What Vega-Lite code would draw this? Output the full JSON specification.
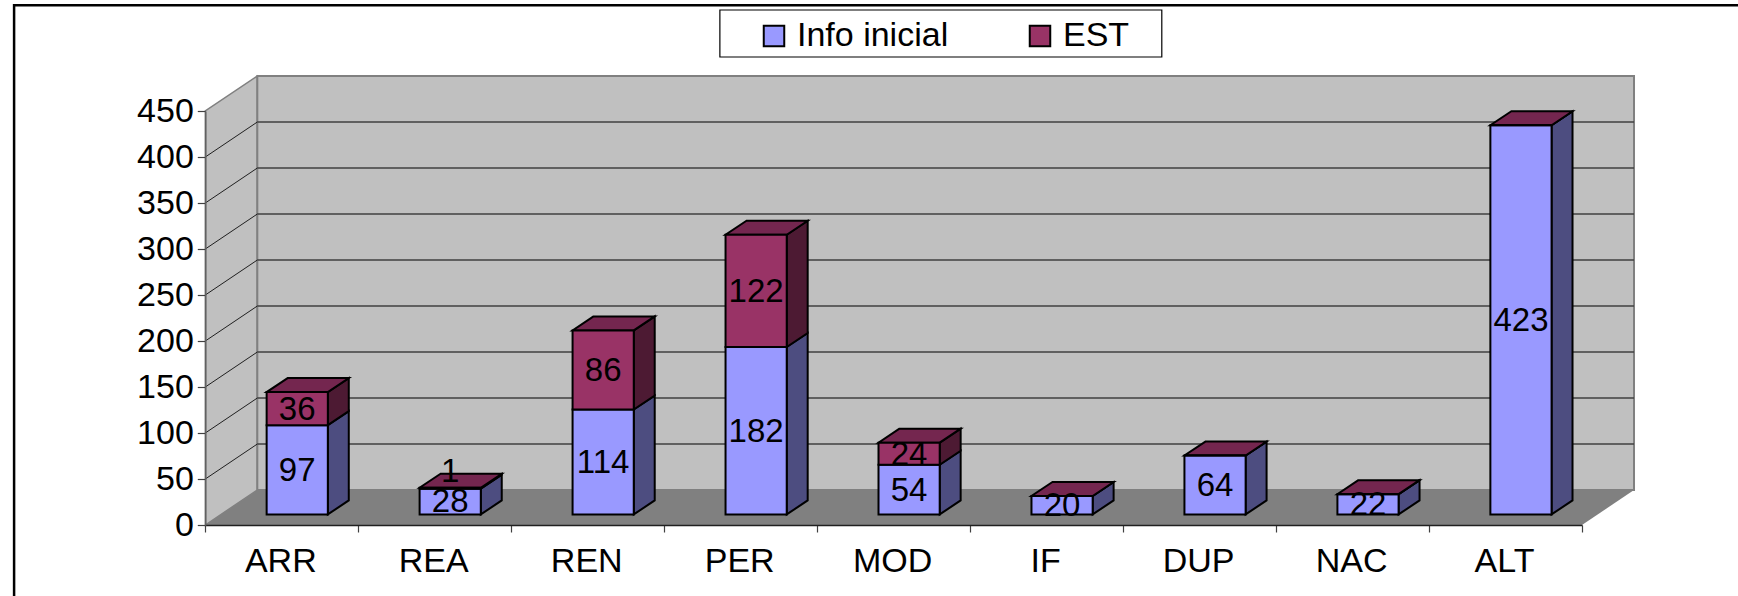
{"$schema":"https://vega.github.io/schema/vega-lite/v6.json","width":1738,"height":596,"padding":0,"autosize":"none","background":"white",
"config":{"view":{"stroke":null},"font":"Liberation Sans"},
"resolve":{"axis":{"x":"independent","y":"independent"}},
"datasets":{"bars":[
{"cat":"ARR","series":"Info inicial","value":97},{"cat":"ARR","series":"EST","value":36},
{"cat":"REA","series":"Info inicial","value":28},{"cat":"REA","series":"EST","value":1},
{"cat":"REN","series":"Info inicial","value":114},{"cat":"REN","series":"EST","value":86},
{"cat":"PER","series":"Info inicial","value":182},{"cat":"PER","series":"EST","value":122},
{"cat":"MOD","series":"Info inicial","value":54},{"cat":"MOD","series":"EST","value":24},
{"cat":"IF","series":"Info inicial","value":20},{"cat":"IF","series":"EST","value":0},
{"cat":"DUP","series":"Info inicial","value":64},{"cat":"DUP","series":"EST","value":0},
{"cat":"NAC","series":"Info inicial","value":22},{"cat":"NAC","series":"EST","value":0},
{"cat":"ALT","series":"Info inicial","value":423},{"cat":"ALT","series":"EST","value":0}],
"grid":[{"g":50},{"g":100},{"g":150},{"g":200},{"g":250},{"g":300},{"g":350},{"g":400}],
"depth":[{"d":0},{"d":1}],"one":[{"a":1}]},
"data":{"name":"bars"},
"transform":[
{"calculate":"datum.series==='EST'?1:0","as":"o"},
{"stack":"value","groupby":["cat"],"sort":[{"field":"o","order":"ascending"}],"as":["v0","v1"]},
{"calculate":"indexof(['ARR','REA','REN','PER','MOD','IF','DUP','NAC','ALT'],datum.cat)","as":"i"},
{"calculate":"datum.i+0.401","as":"xL"},{"calculate":"datum.i+0.801","as":"xR"},
{"calculate":"datum.v0+11.5","as":"b0"},{"calculate":"datum.v1+11.5","as":"b1"}],
"layer":[
{"data":{"name":"one"},"transform":[],"mark":{"type":"rect","fill":null,"stroke":"black","strokeWidth":2.5},
"encoding":{"x":{"datum":-1.25,"type":"quantitative","scale":{"domain":[0,9],"range":[205.3,1582],"nice":false,"zero":false},"axis":null},"x2":{"datum":12},"y":{"datum":565,"type":"quantitative","scale":{"domain":[0,450],"range":[525,111],"nice":false,"zero":false},"axis":null},"y2":{"datum":-100}}},
{"data":{"name":"one"},"transform":[],"mark":{"type":"rect","fill":"white","stroke":"black","strokeWidth":1.2},
"encoding":{"x":{"datum":3.364,"type":"quantitative","scale":{"domain":[0,9],"range":[205.3,1582],"nice":false,"zero":false},"axis":null},"x2":{"datum":6.253},"y":{"datum":559.8,"type":"quantitative","scale":{"domain":[0,450],"range":[525,111],"nice":false,"zero":false},"axis":null},"y2":{"datum":508.7}}},
{"data":{"name":"depth"},"transform":[{"calculate":"datum.d*0.34","as":"x"},{"calculate":"datum.d*38","as":"y"},{"calculate":"450+datum.d*38","as":"y2"}],
"mark":{"type":"area","orient":"vertical","fill":"#C0C0C0","stroke":"#808080","strokeWidth":1.5},
"encoding":{"x":{"field":"x","type":"quantitative","scale":{"domain":[0,9],"range":[205.3,1582],"nice":false,"zero":false},"axis":null},"y":{"field":"y","type":"quantitative","scale":{"domain":[0,450],"range":[525,111],"nice":false,"zero":false},"axis":null},"y2":{"field":"y2"}}},
{"data":{"name":"one"},"transform":[],"mark":{"type":"rect","fill":"#C0C0C0","stroke":"#808080","strokeWidth":2},
"encoding":{"x":{"datum":0.34,"type":"quantitative","scale":{"domain":[0,9],"range":[205.3,1582],"nice":false,"zero":false},"axis":null},"x2":{"datum":9.34},"y":{"datum":38,"type":"quantitative","scale":{"domain":[0,450],"range":[525,111],"nice":false,"zero":false},"axis":null},"y2":{"datum":488}}},
{"data":{"name":"depth"},"transform":[{"calculate":"datum.d*38","as":"y"},{"calculate":"datum.d*0.34","as":"x"},{"calculate":"9+datum.d*0.34","as":"x2"}],
"mark":{"type":"area","orient":"horizontal","fill":"#808080"},
"encoding":{"y":{"field":"y","type":"quantitative","scale":{"domain":[0,450],"range":[525,111],"nice":false,"zero":false},"axis":null},"x":{"field":"x","type":"quantitative","scale":{"domain":[0,9],"range":[205.3,1582],"nice":false,"zero":false},"axis":null},"x2":{"field":"x2"}}},
{"data":{"name":"grid"},"transform":[{"calculate":"datum.g+38","as":"gb"}],"mark":{"type":"rule","stroke":"#404040","strokeWidth":1.5},
"encoding":{"x":{"datum":0.34,"type":"quantitative","scale":{"domain":[0,9],"range":[205.3,1582],"nice":false,"zero":false},"axis":null},"x2":{"datum":9.34},"y":{"field":"gb","type":"quantitative","scale":{"domain":[0,450],"range":[525,111],"nice":false,"zero":false},"axis":null}}},
{"data":{"name":"grid"},"transform":[{"calculate":"datum.g+38","as":"gb"}],"mark":{"type":"rule","stroke":"#202020","strokeWidth":1},
"encoding":{"x":{"datum":0,"type":"quantitative","scale":{"domain":[0,9],"range":[205.3,1582],"nice":false,"zero":false},"axis":null},"x2":{"datum":0.34},"y":{"field":"g","type":"quantitative","scale":{"domain":[0,450],"range":[525,111],"nice":false,"zero":false},"axis":null},"y2":{"field":"gb"}}},
{"data":{"name":"one"},"transform":[],"mark":{"type":"rule","strokeOpacity":0},
"encoding":{"x":{"datum":0,"type":"quantitative","scale":{"domain":[0,9],"range":[205.3,1582],"nice":false,"zero":false},
"axis":{"title":null,"offset":-71,"values":[0,1,2,3,4,5,6,7,8,9],"grid":false,"domainColor":"#202020","domainWidth":1.5,"tickColor":"#404040","tickSize":7,"tickWidth":1.2,"labelFontSize":34,"labelColor":"black","labelPadding":12,"labelOffset":75,"labelAlign":"center","labelBaseline":"top","labelOverlap":false,"labelFlush":false,"labelExpr":"['ARR','REA','REN','PER','MOD','IF','DUP','NAC','ALT',''][datum.value]","zindex":1}},
"y":{"datum":0,"type":"quantitative","scale":{"domain":[0,450],"range":[525,111],"nice":false,"zero":false},
"axis":{"title":null,"offset":-205.3,"values":[0,50,100,150,200,250,300,350,400,450],"grid":false,"domainColor":"#606060","domainWidth":1.5,"tickColor":"#404040","tickSize":8,"tickWidth":1.2,"labelFontSize":34,"labelColor":"black","labelPadding":4,"labelOverlap":false,"labelFlush":false,"zindex":1}}}},
{"transform":[{"calculate":"[0,1]","as":"d"},{"flatten":["d"]},{"calculate":"datum.xR+datum.d*0.137","as":"sx"},{"calculate":"datum.b0+datum.d*15.2","as":"sy0"},{"calculate":"datum.b1+datum.d*15.2","as":"sy1"},{"calculate":"datum.series==='EST'?'#4D1A33':'#4D4D80'","as":"sideColor"}],
"mark":{"type":"area","orient":"vertical","stroke":"black","strokeWidth":2},
"encoding":{"x":{"field":"sx","type":"quantitative","scale":{"domain":[0,9],"range":[205.3,1582],"nice":false,"zero":false},"axis":null},"y":{"field":"sy0","type":"quantitative","stack":null,"scale":{"domain":[0,450],"range":[525,111],"nice":false,"zero":false},"axis":null},"y2":{"field":"sy1"},"fill":{"field":"sideColor","type":"nominal","scale":null,"legend":null},"detail":[{"field":"cat"},{"field":"series"}]}},
{"transform":[{"filter":"datum.series==='EST'"},{"calculate":"[0,1]","as":"d"},{"flatten":["d"]},{"calculate":"datum.xL+datum.d*0.137","as":"tx0"},{"calculate":"datum.xR+datum.d*0.137","as":"tx1"},{"calculate":"datum.b1+datum.d*15.2","as":"ty"}],
"mark":{"type":"area","orient":"horizontal","fill":"#74264F","stroke":"black","strokeWidth":2},
"encoding":{"y":{"field":"ty","type":"quantitative","scale":{"domain":[0,450],"range":[525,111],"nice":false,"zero":false},"axis":null},"x":{"field":"tx0","type":"quantitative","stack":null,"scale":{"domain":[0,9],"range":[205.3,1582],"nice":false,"zero":false},"axis":null},"x2":{"field":"tx1"},"detail":{"field":"cat"}}},
{"mark":{"type":"rect","stroke":"black","strokeWidth":2},
"encoding":{"x":{"field":"xL","type":"quantitative","scale":{"domain":[0,9],"range":[205.3,1582],"nice":false,"zero":false},"axis":null},"x2":{"field":"xR"},"y":{"field":"b0","type":"quantitative","scale":{"domain":[0,450],"range":[525,111],"nice":false,"zero":false},"axis":null},"y2":{"field":"b1"},
"color":{"field":"series","type":"nominal","sort":["Info inicial","EST"],"scale":{"domain":["Info inicial","EST"],"range":["#9999FF","#993366"]},
"legend":{"orient":"none","legendX":757,"legendY":19,"direction":"horizontal","columns":2,"title":null,"symbolType":"square","symbolSize":420,"symbolStrokeColor":"black","symbolStrokeWidth":2,"labelFontSize":34,"labelColor":"black","labelOffset":6,"columnPadding":74,"padding":0,"labelLimit":300}}}},
{"transform":[{"filter":"datum.value>0"},{"calculate":"(datum.xL+datum.xR)/2","as":"tx"},{"calculate":"(datum.b0+datum.b1)/2+(datum.value===1?18:-1)","as":"ty"}],
"mark":{"type":"text","fontSize":33,"color":"black","align":"center","baseline":"middle"},
"encoding":{"x":{"field":"tx","type":"quantitative","scale":{"domain":[0,9],"range":[205.3,1582],"nice":false,"zero":false},"axis":null},"y":{"field":"ty","type":"quantitative","scale":{"domain":[0,450],"range":[525,111],"nice":false,"zero":false},"axis":null},"text":{"field":"value","type":"quantitative"}}}
]}
